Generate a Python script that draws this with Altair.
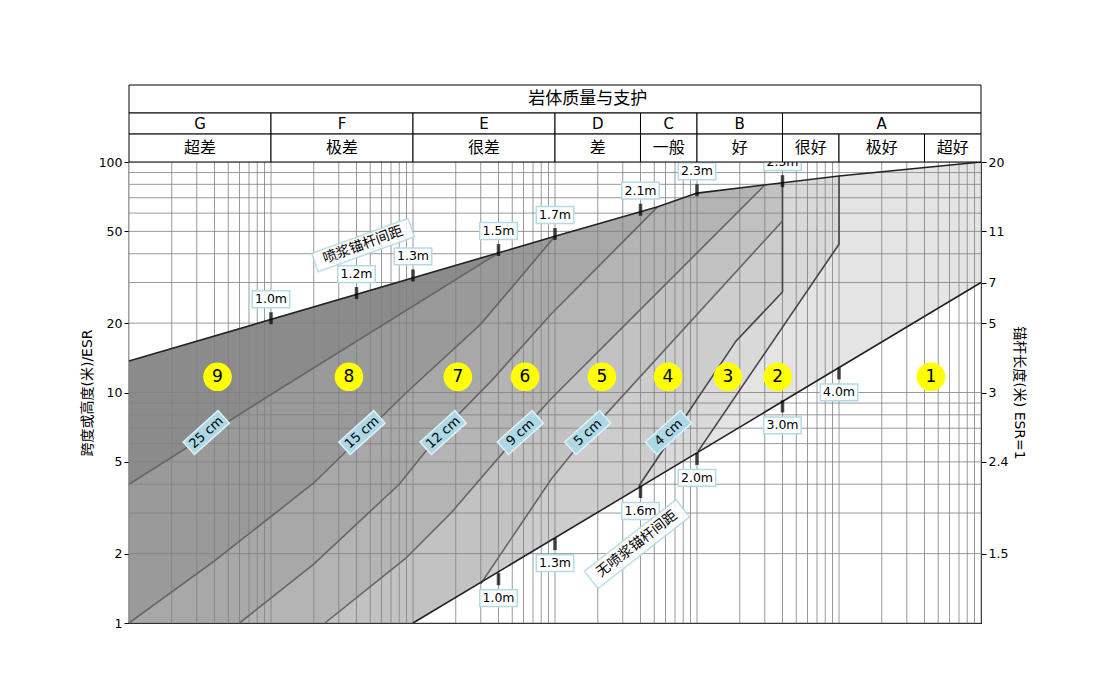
import math
import pandas as pd
import altair as alt

FONT = "DejaVu Sans, Noto Sans CJK SC"

# boundaries of the chart (Q, span/ESR)
top_q = [0.001, 1, 5.3, 10, 100, 1000]
top_s = [13.7, 47.6, 64, 73.3, 86.9, 100]
low_q = [0.1, 1000]
low_s = [1, 30]

# support category boundary curves
curves = {
    "a": ([10.2, 100, 100], [5.57, 44, 86.9]),
    "4cm": ([3.9, 18.8, 40, 40], [3.93, 16.7, 27.3, 81]),
    "5cm": ([0.3, 0.94, 1.7, 40], [1.48, 4.2, 6.6, 55.5]),
    "9cm": ([0.024, 0.089, 0.185, 0.57, 0.94, 29.6], [1, 1.91, 3.0, 6.7, 9.4, 78.7]),
    "12cm": ([0.006, 0.02, 0.08, 0.16, 0.355, 0.94, 5.3], [1, 1.8, 4, 6.8, 11.2, 21.9, 64]),
    "15cm": ([0.001, 0.004, 0.02, 0.09, 0.3, 1], [1, 1.86, 4.05, 10, 19.8, 47.6]),
    "25cm": ([0.001, 0.01, 0.4], [4, 9.8, 40.3]),
}
area_order = ["a", "4cm", "5cm", "9cm", "12cm", "15cm", "25cm"]
area_colors = ["#d9d9d9", "#cdcdcd", "#c2c2c2", "#b4b4b4", "#a8a8a8", "#9a9a9a", "#8b8b8b"]

# bolt spacing markers
top_bolt_q = [0.01, 0.04, 0.1, 0.4, 1, 4, 10, 40]
top_bolt_s = [21, 27, 32.2, 41.5, 48.7, 62.1, 75.4, 82.6]
top_bolt_lab = ["1.0m", "1.2m", "1.3m", "1.5m", "1.7m", "2.1m", "2.3m", "2.5m"]
low_bolt_q = [0.4, 1, 4, 10, 40, 100]
low_bolt_s = [1.55, 2.2, 3.7, 5.15, 8.7, 12.1]
low_bolt_lab = ["1.0m", "1.3m", "1.6m", "2.0m", "3.0m", "4.0m"]

# support category circles
cat_q = [0.0042, 0.0354, 0.207, 0.615, 2.14, 6.25, 16.5, 37, 444]
cat_lab = ["9", "8", "7", "6", "5", "4", "3", "2", "1"]
cat_s = 11.7

# shotcrete thickness labels
cm_q = [0.0035, 0.0437, 0.163, 0.57, 1.7, 6.3]
cm_s = [6.7, 6.7, 6.7, 6.7, 6.7, 6.7]
cm_lab = ["25 cm", "15 cm", "12 cm", "9 cm", "5 cm", "4 cm"]

# header (rows placed just above the plot, in the same log span units)
letters = ["G", "F", "E", "D", "C", "B", "A"]
letter_lo = [0.001, 0.01, 0.1, 1, 4, 10, 40]
letter_hi = [0.01, 0.1, 1, 4, 10, 40, 1000]
grades = ["超差", "极差", "很差", "差", "一般", "好", "很好", "极好", "超好"]
grade_lo = [0.001, 0.01, 0.1, 1, 4, 10, 40, 100, 400]
grade_hi = [0.01, 0.1, 1, 4, 10, 40, 100, 400, 1000]
row_edges = [100, 132.2, 163.1, 215.8]

right_vals = [2, 5, 10, 20, 30, 50, 100]
right_labs = ["1.5", "2.4", "3", "5", "7", "11", "20"]

xs = alt.Scale(type="log", domain=[0.001, 1000], nice=False)


def ys():
    return alt.Scale(type="log", domain=[1, 100], nice=False)


def X(field="q", **kw):
    return alt.X(field, type="quantitative", scale=xs, axis=None, **kw)


def Y(field="s", **kw):
    return alt.Y(field, type="quantitative", scale=ys(), axis=None, **kw)


def bottom(q, s):
    q, s = list(q), list(s)
    if len(q) > 1 and q[-1] == q[-2]:
        q, s = q[:-1], s[:-1]
    if q[0] > 0.001:
        if s[0] > 1:
            q, s = [0.001, 0.1] + q, [1, 1] + s
        else:
            q, s = [0.001] + q, [1] + s
    return pd.DataFrame({"q": q, "s": s, "top": 100})


layers = []
layers.append(alt.Chart(bottom([0.1, 1000], [1, 30])).mark_area(color="#e4e4e4")
              .encode(x=X(), y=Y(), y2="top:Q"))
for name, col in zip(area_order, area_colors):
    q, s = curves[name]
    layers.append(alt.Chart(bottom(q, s)).mark_area(color=col)
                  .encode(x=X(), y=Y(), y2="top:Q"))
# white masks outside the chart zone
layers.append(alt.Chart(pd.DataFrame({"q": top_q, "s": top_s, "e": 100})).mark_area(color="white")
              .encode(x=X(), y=Y(), y2="e:Q"))
layers.append(alt.Chart(pd.DataFrame({"q": low_q, "s": low_s, "e": 1})).mark_area(color="white")
              .encode(x=X(), y=Y(), y2="e:Q"))

# grid
gx = [k * 10.0 ** e for e in range(-3, 3) for k in range(1, 10)] + [1000]
gy = [k * 10.0 ** e for e in range(0, 2) for k in range(1, 10)] + [100]
layers.append(alt.Chart(pd.DataFrame({"q": gx, "a": 1, "b": 100})).mark_rule(color="#808080", strokeWidth=0.8)
              .encode(x=X(), y=Y("a"), y2="b:Q"))
layers.append(alt.Chart(pd.DataFrame({"s": gy, "a": 0.001, "b": 1000})).mark_rule(color="#808080", strokeWidth=0.8)
              .encode(y=Y(), x=X("a"), x2="b:Q"))

# curve lines
rows = []
for name, (q, s) in curves.items():
    for i, (a, b) in enumerate(zip(q, s)):
        rows.append({"id": name, "i": i, "q": a, "s": b, "k": "outer" if name in ("a", "4cm") else "inner"})
for i, (a, b) in enumerate(zip(top_q, top_s)):
    rows.append({"id": "top", "i": i, "q": a, "s": b, "k": "edge"})
for i, (a, b) in enumerate(zip(low_q, low_s)):
    rows.append({"id": "low", "i": i, "q": a, "s": b, "k": "edge"})
layers.append(alt.Chart(pd.DataFrame(rows)).mark_line(strokeWidth=1.6).encode(
    x=X(), y=Y(), detail="id:N", order="i:Q",
    color=alt.Color("k:N", scale=alt.Scale(domain=["inner", "outer", "edge"],
                                           range=["#666666", "#444444", "#222222"]), legend=None)))

# bolt ticks and labels
box = "M-1,-0.45H1V0.45H-1Z"
for q, s, lab, dy in [(top_bolt_q, top_bolt_s, top_bolt_lab, -19), (low_bolt_q, low_bolt_s, low_bolt_lab, 19)]:
    df = pd.DataFrame({"q": q, "s": s, "lab": lab})
    base = alt.Chart(df)
    layers.append(base.mark_tick(orient="vertical", color="black", thickness=3.5, size=12)
                  .encode(x=X(), y=Y()))
    layers.append(base.mark_point(shape=box, size=1400, filled=True, fill="white", opacity=1,
                                  stroke="#b0dbe8", strokeWidth=1.5, yOffset=dy)
                  .encode(x=X(), y=Y()))
    layers.append(base.mark_text(font=FONT, fontSize=12.5, yOffset=dy).encode(x=X(), y=Y(), text="lab:N"))

# shotcrete labels
cmdf = pd.DataFrame({"q": cm_q, "s": cm_s, "lab": cm_lab})
layers.append(alt.Chart(cmdf).mark_point(shape="M-1,-0.36H1V0.36H-1Z", size=2200, filled=True,
                                         fill="#add8e6", opacity=1, stroke="#e0f2f8",
                                         strokeWidth=1.5, angle=318).encode(x=X(), y=Y()))
layers.append(alt.Chart(cmdf).mark_text(font=FONT, fontSize=13, angle=318)
              .encode(x=X(), y=Y(), text="lab:N"))

# rotated zone captions
cap_q = [0.0445, 3.78]
cap_s = [43.6, 2.2]
cap_lab = ["喷浆锚杆间距", "无喷浆锚杆间距"]
cap_ang = [340, 322]
cap_size = [10500, 13500]
for q, s, lab, ang, sz in zip(cap_q, cap_s, cap_lab, cap_ang, cap_size):
    d = pd.DataFrame({"q": [q], "s": [s], "lab": [lab]})
    layers.append(alt.Chart(d).mark_point(shape="M-1,-0.19H1V0.19H-1Z", size=sz,
                                          filled=True, fill="white", opacity=0.85, stroke="#b0dbe8",
                                          strokeWidth=1.5, angle=ang)
                  .encode(x=X(), y=Y()))
    layers.append(alt.Chart(d).mark_text(font=FONT, fontSize=14, angle=ang)
                  .encode(x=X(), y=Y(), text="lab:N"))

# category circles
catdf = pd.DataFrame({"q": cat_q, "s": [cat_s] * len(cat_q), "lab": cat_lab})
layers.append(alt.Chart(catdf).mark_circle(size=820, color="yellow", opacity=1).encode(x=X(), y=Y()))
layers.append(alt.Chart(catdf).mark_text(font=FONT, fontSize=17).encode(x=X(), y=Y(), text="lab:N"))

# header table above the plot
hrows = [{"lo": 0.001, "hi": 1000, "y0": row_edges[2], "y1": row_edges[3], "lab": "岩体质量与支护",
          "c": 1.7, "fs": 17}]
for a, b, l in zip(letter_lo, letter_hi, letters):
    hrows.append({"lo": a, "hi": b, "y0": row_edges[1], "y1": row_edges[2], "lab": l,
                  "c": math.sqrt(a * b), "fs": 15})
for a, b, l in zip(grade_lo, grade_hi, grades):
    hrows.append({"lo": a, "hi": b, "y0": row_edges[0], "y1": row_edges[1], "lab": l,
                  "c": math.sqrt(a * b), "fs": 16})
hdf = pd.DataFrame(hrows)
hdf["ym"] = (hdf.y0 * hdf.y1) ** 0.5
layers.append(alt.Chart(hdf).mark_rect(fill="white", stroke="black", strokeWidth=1).encode(
    x=X("lo"), x2="hi:Q", y=Y("y0"), y2="y1:Q"))
layers.append(alt.Chart(hdf).mark_text(font=FONT, baseline="middle").encode(
    x=X("c"), y=Y("ym"), text="lab:N", size=alt.Size("fs:Q", scale=None, legend=None)))

# axes carriers (left + bottom, right)
axdf = pd.DataFrame({"q": [0.001, 1000], "s": [1, 100]})
xticks = [0.001, 0.004, 0.01, 0.04, 0.1, 0.4, 1, 4, 10, 40, 100, 400, 1000]
layers.append(alt.Chart(axdf).mark_point(opacity=0).encode(
    x=alt.X("q:Q", scale=xs, axis=alt.Axis(values=xticks, labelExpr="'' + datum.value", grid=False,
                                           title="岩体质量Q = RQD/Jn × Jr/Ja × Jw/SRF")),
    y=alt.Y("s:Q", scale=ys(), axis=alt.Axis(values=[1, 2, 5, 10, 20, 50, 100], grid=False,
                                             labelExpr="'' + datum.value", title="跨度或高度(米)/ESR"))))
expr = "''"
for v, l in zip(right_vals, right_labs):
    expr = f"datum.value == {v} ? '{l}' : ({expr})"
layers.append(alt.Chart(axdf).mark_point(opacity=0).encode(
    x=X(),
    y=alt.Y("s:Q", scale=ys(), axis=alt.Axis(orient="right", values=right_vals, labelExpr=expr,
                                             grid=False, title="锚杆长度(米) ESR=1"))))

chart = alt.layer(*layers).resolve_scale(y="independent").properties(
    width=852, height=461,
    padding={"left": 72, "top": 76, "right": 10, "bottom": 10},
).configure_view(stroke="black", strokeWidth=1.2).configure_axis(
    labelFont=FONT, titleFont=FONT, labelFontSize=12.5, titleFontSize=14, titleFontWeight="normal",
    labelColor="black", titleColor="black", domain=False, tickColor="black", tickSize=5
)

chart.save("out.html", embed_options={"renderer": "svg", "actions": False})
